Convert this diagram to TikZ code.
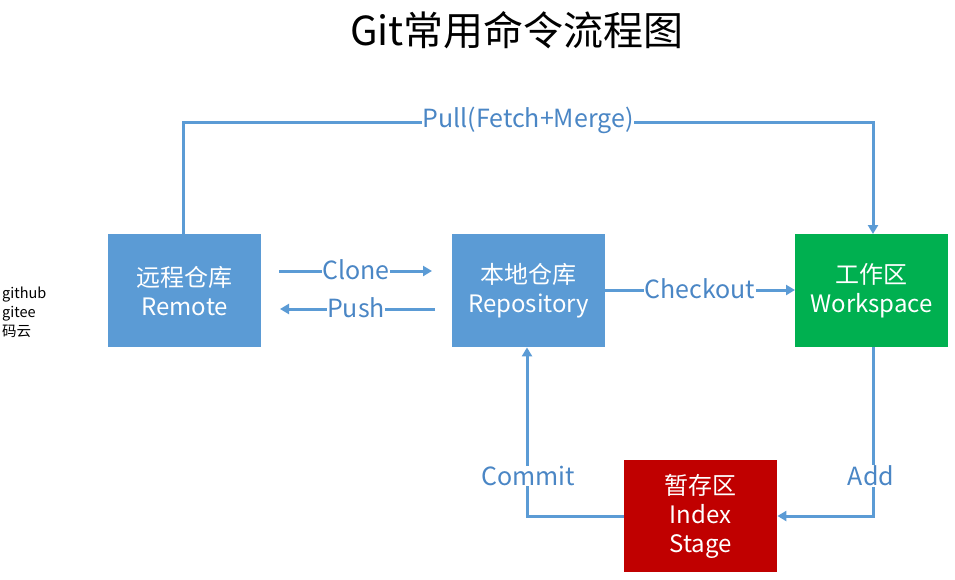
\documentclass[tikz,border=0pt]{standalone}
\usepackage{fontspec}
\setmainfont{Noto Sans CJK SC}
\usetikzlibrary{arrows.meta}
\definecolor{gblue}{HTML}{5B9BD5}
\definecolor{gtext}{HTML}{4A86C5}
\definecolor{ggreen}{HTML}{00B050}
\definecolor{gred}{HTML}{C00000}
\begin{document}
\begin{tikzpicture}[x=1pt,y=-1pt,
  box/.style={minimum width=153pt,minimum height=113pt,inner sep=0pt,text=white,
    font=\fontsize{24}{29}\selectfont,align=center,anchor=north west},
  conn/.style={draw=gblue,line width=3pt,-{Triangle[length=9pt,width=10pt]}},
  lbl/.style={fill=white,text=gtext,font=\fontsize{25}{28}\selectfont,inner sep=0.5pt}]
\useasboundingbox (0,0) rectangle (955,579);
\node (title) at (517,30) {\fontsize{40}{46}\selectfont Git常用命令流程图};
\node[box,fill=gblue] (remote) at (108,234) {远程仓库\\Remote};
\node[box,fill=gblue] (repo) at (452,234) {本地仓库\\Repository};
\node[box,fill=ggreen] (work) at (795,234) {工作区\\Workspace};
\node[box,fill=gred,minimum height=112pt] (stage) at (624,460) {暂存区\\Index\\Stage};
\node[anchor=north west,align=left,inner sep=0pt,font=\fontsize{14.5}{19}\selectfont] (side) at (2,287) {github\\gitee\\码云};
% Pull
\coordinate (p1) at (183,122);
\coordinate (p2) at (873,122);
\draw[conn] (remote.north -| p1) -- (p1) -- (p2) -- (work.north -| p2);
\node[lbl] (pull) at (528,120) {Pull(Fetch+Merge)};
% Clone / Push
\coordinate (c1) at (279,271);
\coordinate (c2) at (432,271);
\draw[conn] (c1) -- (c2);
\node[lbl] (clone) at (356,270) {Clone};
\coordinate (s1) at (435,309);
\coordinate (s2) at (280,309);
\draw[conn] (s1) -- (s2);
\node[lbl] (push) at (356,308) {Push};
% Checkout
\coordinate (k1) at (604,290);
\draw[conn] (k1) -- (work.west |- k1);
\node[lbl] (checkout) at (700,289) {Checkout};
% Add
\coordinate (a1) at (873,516);
\draw[conn] (work.south -| a1) -- (a1) -- (stage.east |- a1);
\node[lbl] (add) at (871,476) {Add};
% Commit
\coordinate (m1) at (527,516);
\draw[conn] (stage.west |- m1) -- (m1) -- (repo.south -| m1);
\node[lbl] (commit) at (528,476) {Commit};
\end{tikzpicture}
\end{document}
